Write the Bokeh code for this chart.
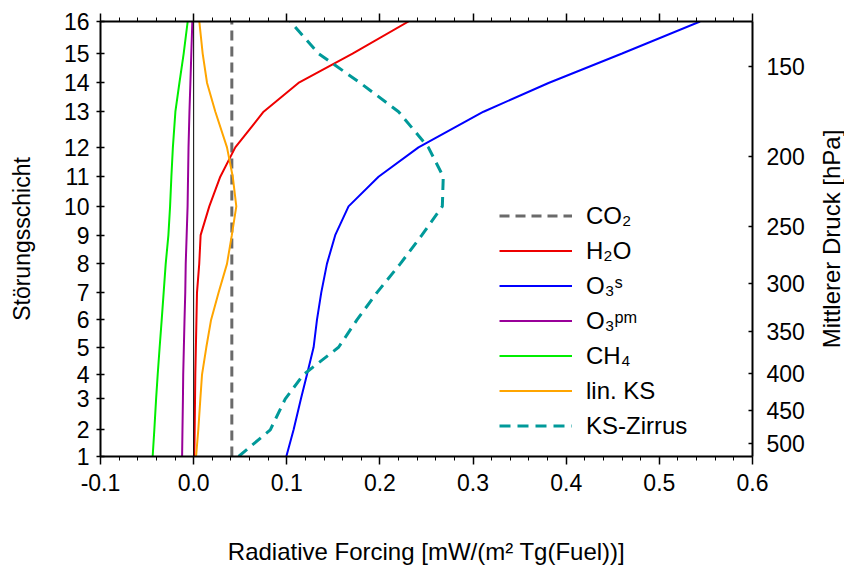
import math
from bokeh.plotting import figure
from bokeh.layouts import row
from bokeh.models import (Range1d, LogAxis, LinearAxis, FixedTicker, Span, Legend,
                          LegendItem, NumeralTickFormatter, CustomJSTickFormatter)
from bokeh.core.properties import value
from bokeh.embed import file_html
from bokeh.resources import INLINE

# ---------------- data ----------------
layers = list(range(1, 17))
# mean pressure [hPa] of each perturbation layer 1..16
layer_pressure = [521.5, 478.8, 433.7, 401.3, 367.8, 337.0, 308.8, 281.7,
                  257.0, 234.4, 213.2, 194.1, 173.2, 158.0, 143.8, 129.8]
pressure_ticks = [150, 200, 250, 300, 350, 400, 450, 500]
x_ticks = [-0.1, 0.0, 0.1, 0.2, 0.3, 0.4, 0.5, 0.6]
x_minor_step = 0.02

co2 = [0.041] * 16
h2o = [0.0007, 0.0011, 0.0015, 0.0018, 0.0024, 0.0030, 0.0036, 0.0060,
       0.0075, 0.0168, 0.0286, 0.0447, 0.0751, 0.1125, 0.1706, 0.2307]
o3s = [0.0995, 0.1073, 0.1152, 0.1217, 0.1288, 0.1324, 0.1370, 0.1431,
       0.1520, 0.1663, 0.1985, 0.2414, 0.3112, 0.3810, 0.4600, 0.5437]
o3pm = [-0.0124, -0.0120, -0.0115, -0.0112, -0.0105, -0.0098, -0.0090, -0.0085,
        -0.0075, -0.0065, -0.0060, -0.0055, -0.0045, -0.0035, -0.0025, -0.0014]
ch4 = [-0.0440, -0.0422, -0.0403, -0.0386, -0.0365, -0.0343, -0.0322, -0.0300,
       -0.0271, -0.0253, -0.0239, -0.0223, -0.0196, -0.0153, -0.0107, -0.0064]
lin_ks = [0.0026, 0.0050, 0.0072, 0.0090, 0.0136, 0.0187, 0.0268, 0.0358,
          0.0410, 0.0458, 0.0420, 0.0358, 0.0233, 0.0144, 0.0097, 0.0061]
ks_zirrus = [0.0483, 0.0823, 0.0984, 0.1180, 0.1556, 0.1753, 0.1968, 0.2218,
             0.2450, 0.2670, 0.2680, 0.2520, 0.2200, 0.1790, 0.1340, 0.1037]

FONT = "Liberation Sans"
FS = "23px"
FS_TITLE = "24px"

BORDER_TOP, BORDER_BOTTOM = 21, 111

p = figure(width=814, height=567, output_backend="svg", toolbar_location=None,
           x_range=Range1d(x_ticks[0], x_ticks[-1]),
           y_range=Range1d(layer_pressure[0], layer_pressure[-1]),
           y_axis_type="log",
           min_border_left=100, min_border_right=62,
           min_border_top=BORDER_TOP, min_border_bottom=BORDER_BOTTOM,
           background_fill_color="white", border_fill_color="white")
p.outline_line_color = None
p.xgrid.visible = False
p.ygrid.visible = False

p.add_layout(Span(location=0, dimension="height", line_color="black", line_width=1))

series = [
    ("CO\u2082", co2, "#6a6a6a", "10 6", 3),
    ("H\u2082O", h2o, "#ee0000", "solid", 2),
    ("O\u2083\u02e2", o3s, "#0000ff", "solid", 2),
    ("O\u2083\u1d56\u1d50", o3pm, "#990099", "solid", 2),
    ("CH\u2084", ch4, "#00ee00", "solid", 2),
    ("lin. KS", lin_ks, "#ffa500", "solid", 2),
    ("KS-Zirrus", ks_zirrus, "#009999", "11 7", 3),
]
items = []
for label, xs, col, dash, lw in series:
    r = p.line(xs, layer_pressure, line_color=col, line_width=lw, line_dash=dash)
    items.append(LegendItem(label=label, renderers=[r]))

legend = Legend(items=items, location=(399, 13), orientation="vertical",
                glyph_width=73, glyph_height=35, label_height=20, spacing=0,
                padding=0, margin=0, label_standoff=14,
                label_text_font=FONT, label_text_font_size="24px",
                label_text_color="black",
                background_fill_alpha=0, border_line_alpha=0)
p.add_layout(legend)

n_minor = int(round((x_ticks[-1] - x_ticks[0]) / x_minor_step))
x_minor = [round(x_ticks[0] + i * x_minor_step, 4) for i in range(n_minor + 1)]

def style(ax):
    ax.axis_line_width = 2
    ax.axis_line_color = "black"
    ax.major_tick_line_width = 1.5
    ax.minor_tick_line_width = 1
    ax.major_label_text_font = FONT
    ax.major_label_text_font_size = FS
    ax.major_label_text_color = "black"
    ax.axis_label_text_font = FONT
    ax.axis_label_text_font_size = FS
    ax.axis_label_text_font_style = "normal"
    ax.axis_label_text_color = "black"

# bottom x axis
xa = p.xaxis[0]
xa.ticker = FixedTicker(ticks=x_ticks, minor_ticks=x_minor)
xa.formatter = NumeralTickFormatter(format="0.0")
style(xa)
xa.major_tick_in = 0
xa.major_tick_out = 8
xa.minor_tick_in = 0
xa.minor_tick_out = 4
xa.major_label_standoff = 9
xa.axis_label = "Radiative Forcing [mW/(m\u00b2 Tg(Fuel))]"
xa.axis_label_text_font_size = FS_TITLE
xa.axis_label_standoff = 44

# top axis (ticks only)
ta = LinearAxis(ticker=FixedTicker(ticks=x_ticks, minor_ticks=x_minor),
                formatter=CustomJSTickFormatter(code="return ''"))
style(ta)
ta.major_tick_in = 0
ta.major_tick_out = 8
ta.minor_tick_in = 0
ta.minor_tick_out = 4
ta.major_label_text_font_size = "1px"
ta.major_label_standoff = 0
p.add_layout(ta, "above")

# left axis: layer numbers
ya = p.yaxis[0]
ya.ticker = FixedTicker(ticks=layer_pressure, minor_ticks=[])
ya.major_label_overrides = {pv: str(n) for pv, n in zip(layer_pressure, layers)}
style(ya)
ya.major_tick_in = 4
ya.major_tick_out = 4
ya.major_label_standoff = 7
ya.axis_label = "St\u00f6rungsschicht"
ya.axis_label_standoff = 26

# right axis: pressure
ra = LogAxis(ticker=FixedTicker(ticks=pressure_ticks, minor_ticks=[]))
style(ra)
ra.major_tick_in = 4
ra.major_tick_out = 0
ra.major_label_standoff = 14
p.add_layout(ra, "right")

# narrow strip on the right holding the right-axis title (reads bottom-to-top)
p2 = figure(width=30, height=567, output_backend="svg", toolbar_location=None,
            x_range=Range1d(0, 1),
            y_range=Range1d(layer_pressure[0], layer_pressure[-1]),
            y_axis_type="log", x_axis_location=None, y_axis_location=None,
            min_border_left=0, min_border_right=0,
            min_border_top=BORDER_TOP, min_border_bottom=BORDER_BOTTOM,
            background_fill_color="white", border_fill_color="white")
p2.grid.visible = False
p2.outline_line_color = None
y_mid = math.sqrt(layer_pressure[0] * layer_pressure[-1])
p2.text(x=[0.5], y=[y_mid], text=["Mittlerer Druck [hPa]"], angle=math.pi / 2,
        x_offset=2, text_align="center", text_baseline="middle",
        text_font=value(FONT), text_font_size=value(FS_TITLE), text_color="black")

layout = row(p, p2, spacing=0)
open("out.html", "w").write(file_html(layout, INLINE))
